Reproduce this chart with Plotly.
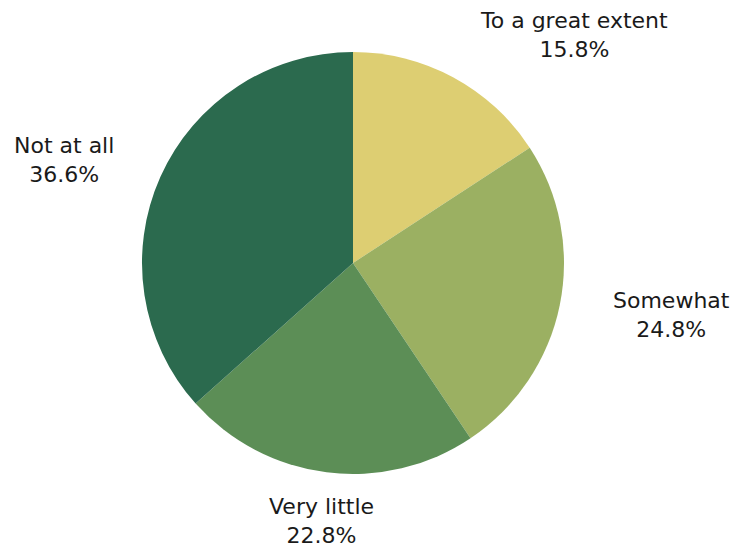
import plotly.graph_objects as go

labels = ["To a great extent", "Somewhat", "Very little", "Not at all"]
values = [15.8, 24.8, 22.8, 36.6]
colors = ["#DDCE72", "#9BB062", "#5C8E56", "#2B6A4E"]

# label block centres in pixels (x from left, y from top)
label_px = [(574, 35), (671, 315), (321, 521), (64, 160)]

W, H = 736, 549

fig = go.Figure(
    go.Pie(
        labels=labels,
        values=values,
        sort=False,
        direction="clockwise",
        rotation=0,
        marker=dict(colors=colors, line=dict(width=0)),
        textinfo="none",
        hoverinfo="label+percent",
        domain=dict(x=[142 / W, 564 / W], y=[(H - 474) / H, (H - 52) / H]),
        showlegend=False,
    )
)

for lab, val, (px, py) in zip(labels, values, label_px):
    fig.add_annotation(
        x=px / W,
        y=1 - py / H,
        xref="paper",
        yref="paper",
        text=f"{lab}<br>{val:.1f}%",
        showarrow=False,
        xanchor="center",
        yanchor="middle",
        align="center",
        font=dict(family="DejaVu Sans", size=22, color="#1a1a1a"),
    )

fig.update_layout(
    width=W,
    height=H,
    margin=dict(l=0, r=0, t=0, b=0),
    paper_bgcolor="white",
    plot_bgcolor="white",
)

fig.write_html("out.html")
